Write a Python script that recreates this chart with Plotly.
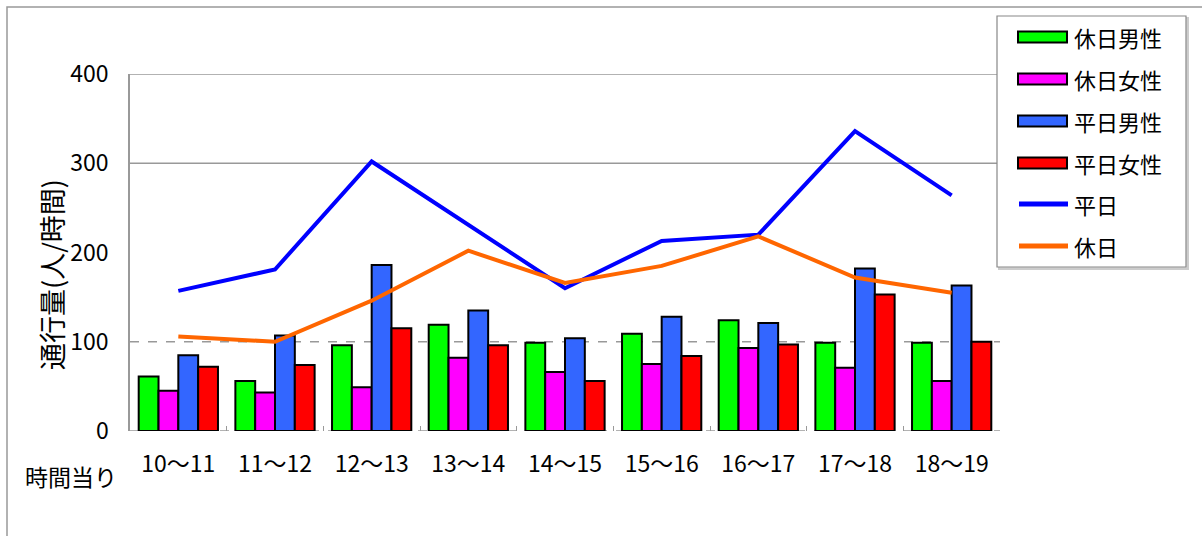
import plotly.graph_objects as go

categories = ["10～11", "11～12", "12～13", "13～14", "14～15",
              "15～16", "16～17", "17～18", "18～19"]
holiday_male = [61, 56, 96, 119, 99, 109, 124, 99, 99]
holiday_female = [45, 43, 49, 82, 66, 75, 93, 71, 56]
weekday_male = [85, 107, 186, 135, 104, 128, 121, 182, 163]
weekday_female = [72, 74, 115, 96, 56, 84, 97, 153, 100]
weekday_total = [157, 181, 302, 231, 160, 213, 220, 336, 264]
holiday_total = [106, 100, 146, 202, 166, 185, 218, 172, 155]
y_ticks = [0, 100, 200, 300, 400]

FONT = "Noto Sans CJK JP"
W, H = 1202, 536
L, R, T, B = 130, 202, 74, 105
PW, PH = W - L - R, H - T - B


def px(x):
    return (x - L) / PW


def py(y):
    return (H - B - y) / PH


bar_series = [
    ("休日男性", holiday_male, "#00FF00"),
    ("休日女性", holiday_female, "#FF00FF"),
    ("平日男性", weekday_male, "#3366FF"),
    ("平日女性", weekday_female, "#FF0000"),
]
line_series = [
    ("平日", weekday_total, "#0000FF"),
    ("休日", holiday_total, "#FF6600"),
]

fig = go.Figure()
for name, vals, col in bar_series:
    fig.add_trace(go.Bar(x=categories, y=vals, name=name, marker_color=col,
                         marker_line_color="black", marker_line_width=2,
                         showlegend=False))
for name, vals, col in line_series:
    fig.add_trace(go.Scatter(x=categories, y=vals, name=name, mode="lines",
                             line=dict(color=col, width=4), showlegend=False))

shapes = []
# outer frame
shapes.append(dict(type="rect", xref="paper", yref="paper",
                   x0=px(7), x1=px(1215), y0=py(560), y1=py(7),
                   line=dict(color="#999999", width=1.5), layer="below"))
# grid lines
for v, dash in [(400, "solid"), (300, "solid"), (100, "dash"), (0, "dash")]:
    shapes.append(dict(type="line", xref="paper", yref="y", x0=0, x1=1,
                       y0=v, y1=v, line=dict(color="#999999", width=1.5, dash=dash),
                       layer="below"))

annotations = []
annotations.append(dict(text="通行量(人/時間)", xref="paper", yref="paper",
                        x=px(51), y=py(275), textangle=-90, showarrow=False,
                        font=dict(family=FONT, size=27, color="black"),
                        xanchor="center", yanchor="middle"))
annotations.append(dict(text="時間当り", xref="paper", yref="paper",
                        x=px(23), y=py(476), showarrow=False,
                        font=dict(family=FONT, size=23, color="black"),
                        xanchor="left", yanchor="middle"))

# legend box (drawn manually to reproduce wide swatches)
shapes.append(dict(type="rect", xref="paper", yref="paper",
                   x0=px(999), x1=px(1188), y0=py(269), y1=py(18),
                   line=dict(color="#cccccc", width=2), fillcolor="#dddddd"))
shapes.append(dict(type="rect", xref="paper", yref="paper",
                   x0=px(997), x1=px(1186), y0=py(267), y1=py(16),
                   line=dict(color="#888888", width=1.2), fillcolor="white"))
row_y = [37, 79, 121, 163, 204, 246]
entries = [(n, c, "bar") for n, _, c in bar_series] + [(n, c, "line") for n, _, c in line_series]
for (name, col, kind), yy in zip(entries, row_y):
    if kind == "bar":
        shapes.append(dict(type="rect", xref="paper", yref="paper",
                           x0=px(1018), x1=px(1067), y0=py(yy + 5.5), y1=py(yy - 5.5),
                           fillcolor=col, line=dict(color="black", width=2)))
    else:
        shapes.append(dict(type="line", xref="paper", yref="paper",
                           x0=px(1019), x1=px(1068), y0=py(yy), y1=py(yy),
                           line=dict(color=col, width=5)))
    annotations.append(dict(text=name, xref="paper", yref="paper",
                            x=px(1072), y=py(yy), showarrow=False,
                            xanchor="left", yanchor="middle",
                            font=dict(family=FONT, size=22, color="black")))

fig.update_layout(
    width=W, height=H,
    margin=dict(l=L, r=R, t=T, b=B, autoexpand=False),
    paper_bgcolor="white", plot_bgcolor="white",
    barmode="group", bargap=0.18, bargroupgap=0,
    showlegend=False,
    shapes=shapes, annotations=annotations,
    font=dict(family=FONT, color="black"),
)
fig.update_xaxes(showgrid=False, showline=False, zeroline=False,
                 ticks="inside", tickson="boundaries", ticklen=5,
                 tickcolor="#999999", tickwidth=1,
                 tickfont=dict(family=FONT, size=23, color="black"),
                 ticklabelstandoff=17)
fig.update_yaxes(range=[0, 400], tickvals=y_ticks, showgrid=False,
                 zeroline=False, showline=True, linecolor="#999999", linewidth=1.5,
                 ticks="", tickfont=dict(family=FONT, size=23, color="black"),
                 ticklabelstandoff=15)

fig.write_html("out.html", config={"displayModeBar": False},
               post_script="document.body.style.margin='0';document.body.style.padding='0';")
